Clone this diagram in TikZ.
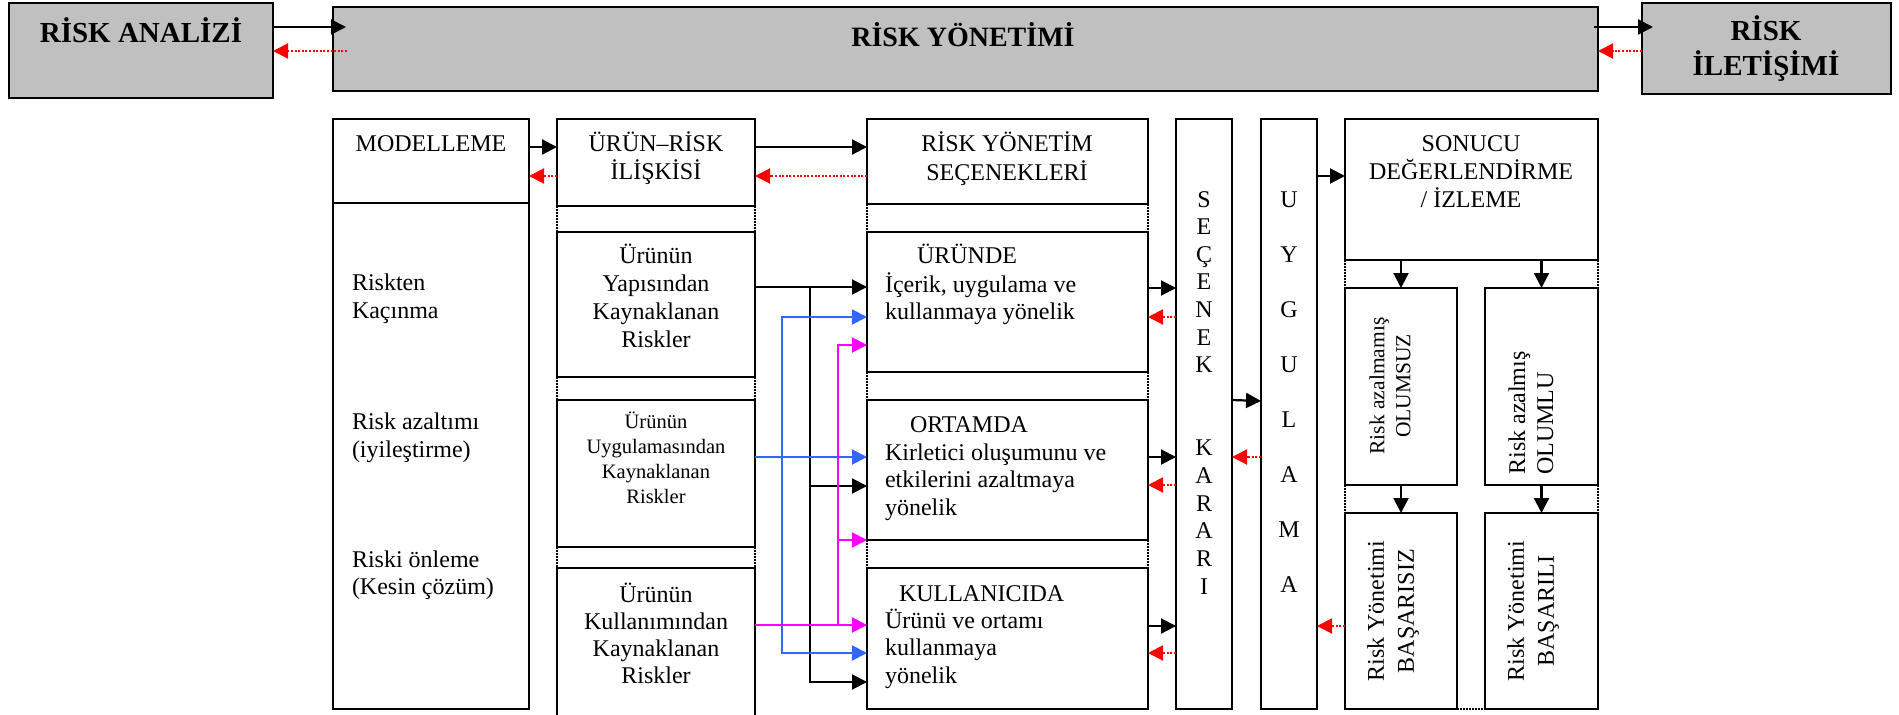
\documentclass[tikz,border=0pt]{standalone}
\usepackage{fontspec}
\setmainfont{Liberation Serif}
\usetikzlibrary{arrows.meta}

\definecolor{panelgray}{RGB}{192,192,192}
\definecolor{linkblue}{RGB}{51,102,255}
\definecolor{linkmag}{RGB}{255,0,255}
\definecolor{backred}{RGB}{255,0,0}

\tikzset{
  box/.style={draw=black, line width=2.6pt, inner sep=0pt, outer sep=0pt},
  graybox/.style={box, fill=panelgray},
  lbl/.style={inner sep=0pt, outer sep=0pt, font=\fontsize{24}{28}\selectfont},
  headlbl/.style={inner sep=0pt, outer sep=0pt, font=\fontsize{29}{35}\selectfont\bfseries},
  fwd/.style={draw=black, line width=2.2pt, -{Triangle[length=15pt,width=15pt]}},
  back/.style={draw=backred, line width=2pt, dash pattern=on 2pt off 1.6pt,
               -{Triangle[length=15pt,width=15pt]}},
  bluelink/.style={draw=linkblue, line width=2pt, -{Triangle[length=15pt,width=15pt]}},
  maglink/.style={draw=linkmag, line width=2pt, -{Triangle[length=15pt,width=15pt]}},
  trunk/.style={line width=2pt, line cap=butt},
  gap/.style={draw=black, line width=1.2pt, dash pattern=on 1.5pt off 1.5pt},
}

\begin{document}
\begin{tikzpicture}[x=1pt, y=-1pt]
\useasboundingbox (0,0) rectangle (1899,715);

% multi-line labels below are anchored at the baseline of their last line

% ---------- top row ----------
\node[graybox, minimum width=264pt, minimum height=95pt] (ra) at (141,50.5) {};
\node[graybox, minimum width=1265pt, minimum height=84pt] (ry) at (965.5,49) {};
\node[graybox, minimum width=249pt, minimum height=91pt] (ri) at (1766.5,48.5) {};

\node[headlbl, anchor=base] (ratxt) at (141,42) {RİSK ANALİZİ};
\node[headlbl, anchor=base, font=\fontsize{28}{34}\selectfont\bfseries] (rytxt) at (963,46) {RİSK YÖNETİMİ};
\node[headlbl, anchor=base, align=center] (ritxt) at (1766,75) {RİSK\\İLETİŞİMİ};

\draw[fwd] (ra.east |- 0,27) -- ([xshift=13pt]ry.west |- 0,27);
\draw[back] ([xshift=14pt]ry.west |- 0,51) -- (ra.east |- 0,51);
\draw[fwd] ([xshift=-4pt]ry.east |- 0,27) -- ([xshift=11pt]ri.west |- 0,27);
\draw[back] (ri.west |- 0,51) -- (ry.east |- 0,51);

% ---------- dotted column sides ----------
\foreach \xx in {557,755} {
  \draw[gap] (\xx,206) -- (\xx,232);
  \draw[gap] (\xx,377) -- (\xx,400);
  \draw[gap] (\xx,547) -- (\xx,568);
}
\foreach \xx in {867,1148} {
  \draw[gap] (\xx,204) -- (\xx,232);
  \draw[gap] (\xx,372) -- (\xx,400);
  \draw[gap] (\xx,540) -- (\xx,568);
}
\foreach \xx in {1345,1598} {
  \draw[gap] (\xx,260) -- (\xx,288);
  \draw[gap] (\xx,485) -- (\xx,513);
}
\draw[gap] (1457,709) -- (1485,709);

% ---------- modelling column ----------
\node[box, minimum width=196pt, minimum height=84pt] (mod) at (431,161) {};
\node[box, minimum width=196pt, minimum height=506pt] (modb) at (431,456) {};
\node[lbl, anchor=base] (modtxt) at (431,151) {MODELLEME};
\node[lbl, anchor=base west, align=left] (avoid) at (352,318) {Riskten\\Kaçınma};
\node[lbl, anchor=base west, align=left] (reduce) at (352,457) {Risk azaltımı\\(iyileştirme)};
\node[lbl, anchor=base west, align=left, font=\fontsize{24}{27}\selectfont] (prevent) at (352,594) {Riski önleme\\(Kesin çözüm)};

% ---------- product / risk column ----------
\node[box, minimum width=198pt, minimum height=87pt] (ur) at (656,162.5) {};
\node[box, minimum width=198pt, minimum height=145pt] (yap) at (656,304.5) {};
\node[box, minimum width=198pt, minimum height=147pt] (uyg) at (656,473.5) {};
\node[box, minimum width=198pt, minimum height=157pt] (kulk) at (656,646.5) {};
\node[lbl, anchor=base, align=center] (urtxt) at (656,179) {ÜRÜN–RİSK\\İLİŞKİSİ};
\node[lbl, anchor=base, align=center] (yaptxt) at (656,347) {Ürünün\\Yapısından\\Kaynaklanan\\Riskler};
\node[lbl, anchor=base, align=center, font=\fontsize{20.5}{24.7}\selectfont] (uygtxt) at (656,503) {Ürünün\\Uygulamasından\\Kaynaklanan\\Riskler};
\node[lbl, anchor=base, align=center, font=\fontsize{24}{27}\selectfont] (kulktxt) at (656,683) {Ürünün\\Kullanımından\\Kaynaklanan\\Riskler};

% ---------- management options column ----------
\node[box, minimum width=281pt, minimum height=85pt] (sy) at (1007.5,161.5) {};
\node[box, minimum width=281pt, minimum height=140pt] (urunde) at (1007.5,302) {};
\node[box, minimum width=281pt, minimum height=140pt] (ortamda) at (1007.5,470) {};
\node[box, minimum width=281pt, minimum height=141pt] (kullanicida) at (1007.5,638.5) {};
\node[lbl, anchor=base, align=center, font=\fontsize{24}{29}\selectfont] (sytxt) at (1007,180) {RİSK YÖNETİM\\SEÇENEKLERİ};

\node[lbl, anchor=base west] (t1) at (917,263) {ÜRÜNDE};
\node[lbl, anchor=base west, align=left, font=\fontsize{24}{27.5}\selectfont] (b1) at (885,319.5) {İçerik, uygulama ve\\kullanmaya yönelik};
\node[lbl, anchor=base west] (t2) at (910,432) {ORTAMDA};
\node[lbl, anchor=base west, align=left, font=\fontsize{24}{27.7}\selectfont] (b2) at (885,515.4) {Kirletici oluşumunu ve\\etkilerini azaltmaya\\yönelik};
\node[lbl, anchor=base west] (t3) at (899,601) {KULLANICIDA};
\node[lbl, anchor=base west, align=left, font=\fontsize{24}{27.5}\selectfont] (b3) at (885,683) {Ürünü ve ortamı\\kullanmaya\\yönelik};

% ---------- decision and implementation columns ----------
\node[box, minimum width=56pt, minimum height=590pt] (karar) at (1204,414) {};
\node[box, minimum width=56pt, minimum height=590pt] (uygulama) at (1289,414) {};
\node[lbl, anchor=base, align=center, font=\fontsize{24}{27.64}\selectfont] (karartxt) at (1204,594)
  {S\\E\\Ç\\E\\N\\E\\K\\\mbox{}\\\mbox{}\\K\\A\\R\\A\\R\\I};
\node[lbl, anchor=base, align=center, font=\fontsize{24}{55}\selectfont] (uygtxt2) at (1289,592)
  {U\\Y\\G\\U\\L\\A\\M\\A};

% ---------- evaluation column ----------
\node[box, minimum width=253pt, minimum height=141pt] (sonucu) at (1471.5,189.5) {};
\node[box, minimum width=112pt, minimum height=197pt] (olumsuz) at (1401,386.5) {};
\node[box, minimum width=113pt, minimum height=197pt] (olumlu) at (1541.5,386.5) {};
\node[box, minimum width=112pt, minimum height=196pt] (basarisiz) at (1401,611) {};
\node[box, minimum width=113pt, minimum height=196pt] (basarili) at (1541.5,611) {};
\node[lbl, anchor=base, align=center, font=\fontsize{24}{28}\selectfont] (sontxt) at (1471,207) {SONUCU\\DEĞERLENDİRME\\/ İZLEME};
\node[lbl, rotate=90, align=center, font=\fontsize{21.5}{26}\selectfont] (olumsuztxt) at (1390,386) {Risk azalmamış\\OLUMSUZ};
\node[lbl, rotate=90, align=left, font=\fontsize{24}{28}\selectfont] (olumlutxt) at (1531,413) {Risk azalmış\\OLUMLU};
\node[lbl, rotate=90, align=center, font=\fontsize{24}{30}\selectfont] (basarisiztxt) at (1393,611) {Risk Yönetimi\\BAŞARISIZ};
\node[lbl, rotate=90, align=center, font=\fontsize{24}{30}\selectfont] (basarilitxt) at (1533,611) {Risk Yönetimi\\BAŞARILI};

% ---------- connectors: upper row ----------
\draw[fwd] (mod.east |- 0,147) -- (ur.west |- 0,147);
\draw[back] (ur.west |- 0,176) -- (mod.east |- 0,176);
\draw[fwd] (ur.east |- 0,147) -- (sy.west |- 0,147);
\draw[back] (sy.west |- 0,176) -- (ur.east |- 0,176);

% ---------- connectors: risk sources to options ----------
\coordinate (jblack) at (810,287);
\coordinate (jblue) at (782,457);
\coordinate (jmag) at (838,625);

\draw[fwd, trunk] (yap.east |- jblack) -- (urunde.west |- jblack);
\draw[fwd, trunk] (jblack) |- (ortamda.west |- 0,486);
\draw[fwd, trunk] (jblack) |- (kullanicida.west |- 0,682);

\draw[bluelink] (uyg.east |- jblue) -- (ortamda.west |- jblue);
\draw[bluelink] (jblue) |- (urunde.west |- 0,317);
\draw[bluelink] (jblue) |- (kullanicida.west |- 0,653);

\draw[maglink] (kulk.east |- jmag) -- (kullanicida.west |- jmag);
\draw[maglink] (jmag) |- (urunde.west |- 0,345);
\draw[maglink] (jmag) |- (ortamda.west |- 0,540);

% ---------- connectors: options to decision ----------
\draw[fwd] (urunde.east |- 0,288) -- (karar.west |- 0,288);
\draw[back] (karar.west |- 0,317) -- (urunde.east |- 0,317);
\draw[fwd] (ortamda.east |- 0,457) -- (karar.west |- 0,457);
\draw[back] (karar.west |- 0,485) -- (ortamda.east |- 0,485);
\draw[fwd] (kullanicida.east |- 0,626) -- (karar.west |- 0,626);
\draw[back] (karar.west |- 0,653) -- (kullanicida.east |- 0,653);

% ---------- connectors: decision, implementation, evaluation ----------
\draw[fwd] (karar.east |- 0,400) -- (uygulama.west |- 0,401);
\draw[back] (uygulama.west |- 0,457) -- (karar.east |- 0,457);
\draw[fwd] (uygulama.east |- 0,176) -- (sonucu.west |- 0,176);
\draw[back] (basarisiz.west |- 0,626) -- (uygulama.east |- 0,626);

\draw[fwd] (sonucu.south -| olumsuz.north) -- (olumsuz.north);
\draw[fwd] (sonucu.south -| olumlu.north) -- (olumlu.north);
\draw[fwd] (olumsuz.south) -- (basarisiz.north);
\draw[fwd] (olumlu.south) -- (basarili.north);
\end{tikzpicture}
\end{document}
